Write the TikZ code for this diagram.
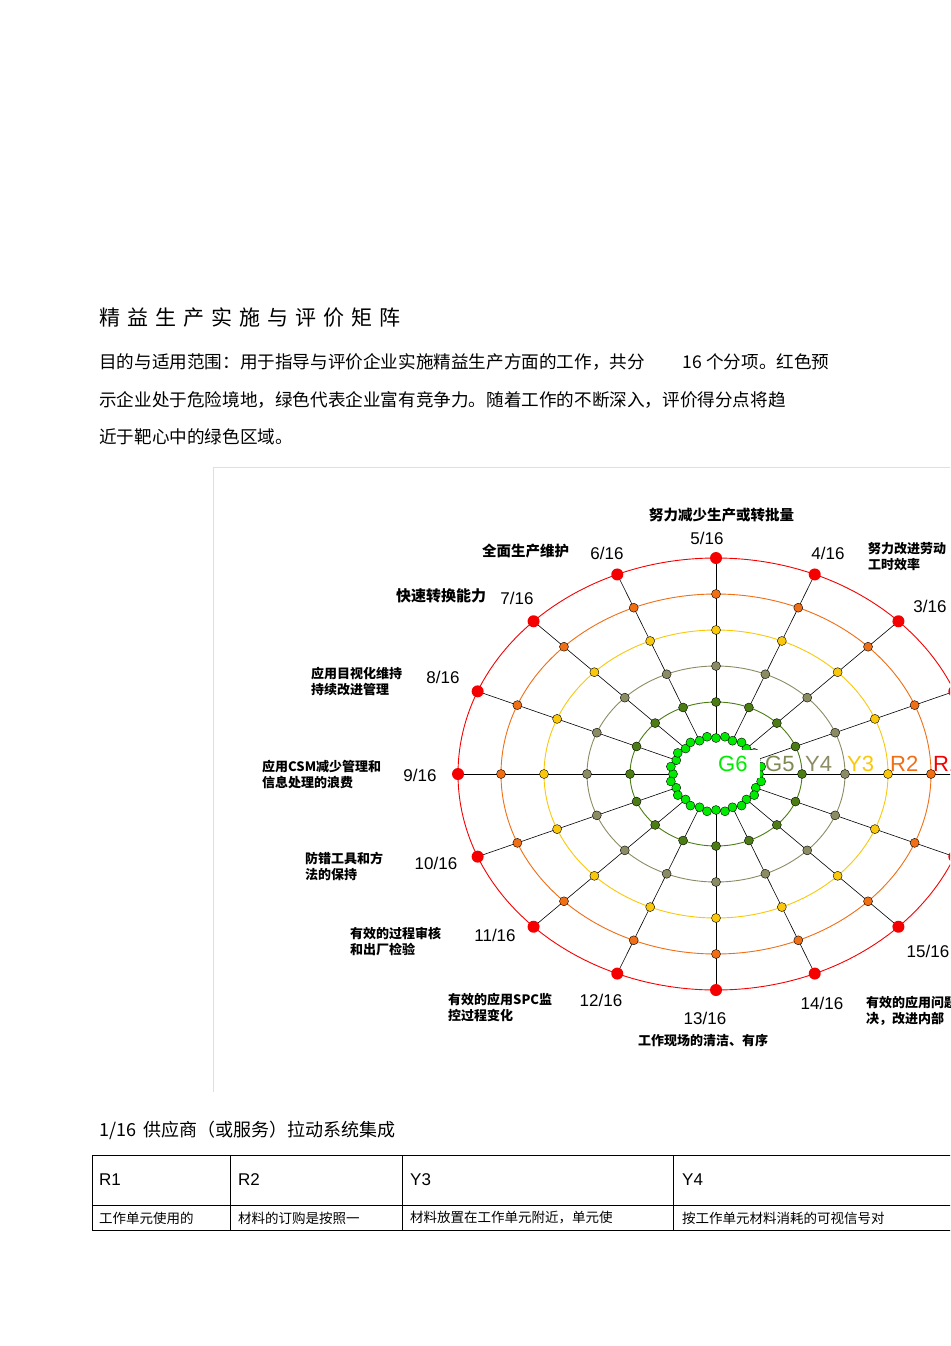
\documentclass[tikz,border=0pt]{standalone}
\usepackage{fontspec}
\setmainfont{Liberation Sans}
\newfontfamily\cjk{Noto Sans CJK SC}
\begin{document}
\begin{tikzpicture}[x=1pt,y=-1pt,
  lab/.style={font=\cjk\fontsize{13}{16}\selectfont\bfseries,anchor=west,inner sep=0,align=left},
  frac/.style={font=\fontsize{17}{17}\selectfont,inner sep=0},
  para/.style={font=\cjk\fontsize{17.6}{18}\selectfont,anchor=west,inner sep=0},
  dot/.style={circle,draw=black,line width=0.4pt,inner sep=0,minimum size=9pt}]
\useasboundingbox (0,0) rectangle (950,1346);
\clip (0,0) rectangle (950,1346);
\fill[white] (0,0) rectangle (950,1346);
% text
\node[para,font=\cjk\fontsize{21}{22}\selectfont] (title) at (99,318) {精\hspace{7pt}益\hspace{7pt}生\hspace{7pt}产\hspace{7pt}实\hspace{7pt}施\hspace{7pt}与\hspace{7pt}评\hspace{7pt}价\hspace{7pt}矩\hspace{7pt}阵};
\node[para] (p1) at (99,362) {目的与适用范围：用于指导与评价企业实施精益生产方面的工作，共分\hspace{38pt}16 个分项。红色预};
\node[para] (p2) at (99,400) {示企业处于危险境地，绿色代表企业富有竞争力。随着工作的不断深入，评价得分点将趋};
\node[para] (p3) at (99,437) {近于靶心中的绿色区域。};
% frame
\draw[gray!25] (213,1092) -- (213,467) -- (960,467);
\def\cx{716}\def\cy{774}
\definecolor{cR}{RGB}{245,0,0}
\definecolor{cO}{RGB}{240,110,20}
\definecolor{cY}{RGB}{250,200,10}
\definecolor{cG}{RGB}{140,140,100}
\definecolor{cD}{RGB}{75,125,20}
\definecolor{cB}{RGB}{0,235,0}
\foreach \k/\c in {2/cD,3/cG,4/cY,5/cO,6/cR}{
  \draw[\c,line width=0.9pt] (\cx,\cy) ellipse [x radius={43*\k}, y radius={36*\k}];
}
\foreach \i in {0,...,15}{
  \pgfmathsetmacro\a{\i*22.5}
  \draw[black,line width=0.6pt] ({\cx+43*cos(\a)},{\cy-36*sin(\a)}) -- ({\cx+43*6*cos(\a)},{\cy-36*6*sin(\a)});
}
\foreach \i in {0,...,15}{
  \pgfmathsetmacro\a{\i*22.5}
  \foreach \k/\c in {1/cB,2/cD,3/cG,4/cY,5/cO}{
    \node[dot,fill=\c] (d\i-\k) at ({\cx+43*\k*cos(\a)},{\cy-36*\k*sin(\a)}) {};
  }
  \node[circle,fill=cR,inner sep=0,minimum size=12pt] (d\i-6) at ({\cx+258*cos(\a)},{\cy-216*sin(\a)}) {};
}
\foreach \i in {0,...,15}{
  \pgfmathsetmacro\a{\i*22.5+11.25}
  \node[dot,fill=cB] (e\i) at ({\cx+46*cos(\a)},{\cy-38*sin(\a)}) {};
}
% axis labels
\fill[white] (720,750) rectangle (760,778);
\node[frac,text=cB,anchor=west,font=\fontsize{22}{22}\selectfont] (g6) at (718,764) {G6};
\node[frac,text=cG!80!cD,anchor=west,font=\fontsize{22}{22}\selectfont] (g5) at (765,764) {G5};
\node[frac,text=cG,anchor=west,font=\fontsize{22}{22}\selectfont] (y4) at (805,764) {Y4};
\node[frac,text=cY,anchor=west,font=\fontsize{22}{22}\selectfont] (y3) at (847,764) {Y3};
\node[frac,text=cO,anchor=west,font=\fontsize{22}{22}\selectfont] (r2) at (890,764) {R2};
\node[frac,text=cR,anchor=west,font=\fontsize{22}{22}\selectfont] (r1) at (933,764) {R1};
% fractions
\node[frac] (f5) at (707,538) {5/16};
\node[frac] (f6) at (607,553) {6/16};
\node[frac] (f4) at (828,553) {4/16};
\node[frac] (f7) at (517,598) {7/16};
\node[frac] (f3) at (930,606) {3/16};
\node[frac] (f8) at (443,677) {8/16};
\node[frac] (f9) at (420,775) {9/16};
\node[frac] (f10) at (436,863) {10/16};
\node[frac] (f11) at (495,935) {11/16};
\node[frac] (f12) at (601,1000) {12/16};
\node[frac] (f13) at (705,1018) {13/16};
\node[frac] (f14) at (822,1003) {14/16};
\node[frac] (f15) at (928,951) {15/16};
% chart labels
\node[lab,font=\cjk\fontsize{14.5}{16}\selectfont\bfseries] (l5) at (649,515) {努力减少生产或转批量};
\node[lab,font=\cjk\fontsize{14.5}{16}\selectfont\bfseries] (l6) at (482,551) {全面生产维护};
\node[lab] (l4) at (868,557) {努力改进劳动\\工时效率};
\node[lab,font=\cjk\fontsize{15}{16}\selectfont\bfseries] (l7) at (396,596) {快速转换能力};
\node[lab] (l8) at (311,681) {应用目视化维持\\持续改进管理};
\node[lab] (l9) at (262,775) {应用CSM减少管理和\\信息处理的浪费};
\node[lab] (l10) at (305,866) {防错工具和方\\法的保持};
\node[lab] (l11) at (350,941) {有效的过程审核\\和出厂检验};
\node[lab] (l12) at (448,1007) {有效的应用SPC监\\控过程变化};
\node[lab] (l14) at (866,1011) {有效的应用问题解\\决，改进内部};
\node[lab] (l13) at (638,1041) {工作现场的清洁、有序};
% table
\node[para,font=\cjk\fontsize{18}{20}\selectfont] (tt) at (99,1130) {1/16\, 供应商（或服务）拉动系统集成};
\draw[black,line width=0.8pt] (92,1230) -- (92,1155) -- (960,1155);
\draw[black,line width=0.8pt] (92,1205) -- (960,1205);
\draw[black,line width=0.8pt] (92,1230) -- (960,1230);
\foreach \x in {230,402,673}{\draw[black,line width=0.8pt] (\x,1155) -- (\x,1230);}
\node[para,font=\fontsize{17}{17}\selectfont] (h1) at (99,1180) {R1};
\node[para,font=\fontsize{17}{17}\selectfont] (h2) at (238,1180) {R2};
\node[para,font=\fontsize{17}{17}\selectfont] (h3) at (410,1180) {Y3};
\node[para,font=\fontsize{17}{17}\selectfont] (h4) at (682,1180) {Y4};
\node[para,font=\cjk\fontsize{13.5}{14}\selectfont] (c1) at (99,1218) {工作单元使用的};
\node[para,font=\cjk\fontsize{13.5}{14}\selectfont] (c2) at (238,1218) {材料的订购是按照一};
\node[para,font=\cjk\fontsize{13.5}{14}\selectfont] (c3) at (410,1218) {材料放置在工作单元附近，单元使};
\node[para,font=\cjk\fontsize{13.5}{14}\selectfont] (c4) at (682,1218) {按工作单元材料消耗的可视信号对};
\end{tikzpicture}
\end{document}
